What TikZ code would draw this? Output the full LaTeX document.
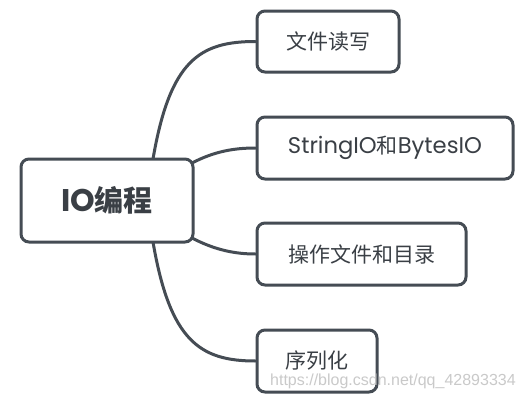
\documentclass[tikz,border=0pt]{standalone}
\usepackage{fontspec}
\usetikzlibrary{backgrounds}
\setmainfont{Noto Sans CJK SC}
\newfontfamily\latinfont[Scale=1.08]{Poppins}
\newfontfamily\wmfont{Liberation Sans}
\definecolor{edgec}{HTML}{454C54}
\definecolor{textc}{HTML}{3A3F45}
\definecolor{wmc}{HTML}{C4C4C4}
\tikzset{
  topicbox/.style={draw=edgec, line width=3pt, rounded corners=8pt, fill=white,
    inner sep=0pt, text=textc, font=\fontsize{21}{24}\selectfont},
  centerbox/.style={topicbox, font=\bfseries\fontsize{29}{32}\selectfont},
  link/.style={draw=edgec, line width=3pt, line cap=round}
}
\begin{document}
\begin{tikzpicture}[x=1pt,y=-1pt]
\useasboundingbox (0,0) rectangle (523,400);
\coordinate (s1) at (153,159);
\coordinate (s2) at (192,163);
\coordinate (s3) at (192,238);
\coordinate (s4) at (153,242);
\node[centerbox, minimum width=172pt, minimum height=83pt] (c) at (107,200.5) {{\latinfont\bfseries IO}编程};
\node[topicbox, minimum width=142pt, minimum height=61pt] (b1) at (328,41.5) {文件读写};
\node[topicbox, minimum width=256pt, minimum height=62pt] (b2) at (385,148) {{\latinfont StringIO}和{\latinfont BytesIO}};
\node[topicbox, minimum width=209pt, minimum height=62pt] (b3) at (361.5,254) {操作文件和目录};
\node[topicbox, minimum width=120pt, minimum height=62pt] (b4) at (317,361) {序列化};
\begin{pgfonlayer}{background}
\fill[white] (0,0) rectangle (523,400);
\draw[link] (s1) .. controls (170,60) and (200,41.5) .. (b1.west);
\draw[link] (s2) .. controls (215,151) and (235,148) .. (b2.west);
\draw[link] (s3) .. controls (215,250) and (235,254) .. (b3.west);
\draw[link] (s4) .. controls (170,341) and (200,361) .. (b4.west);
\end{pgfonlayer}
\node[draw=none, text=wmc, font=\wmfont\fontsize{16}{18}\selectfont, anchor=base west, inner sep=0pt, opacity=0.9] (wm) at (270,385) {https://blog.csdn.net/qq\_42893334};
\end{tikzpicture}
\end{document}
